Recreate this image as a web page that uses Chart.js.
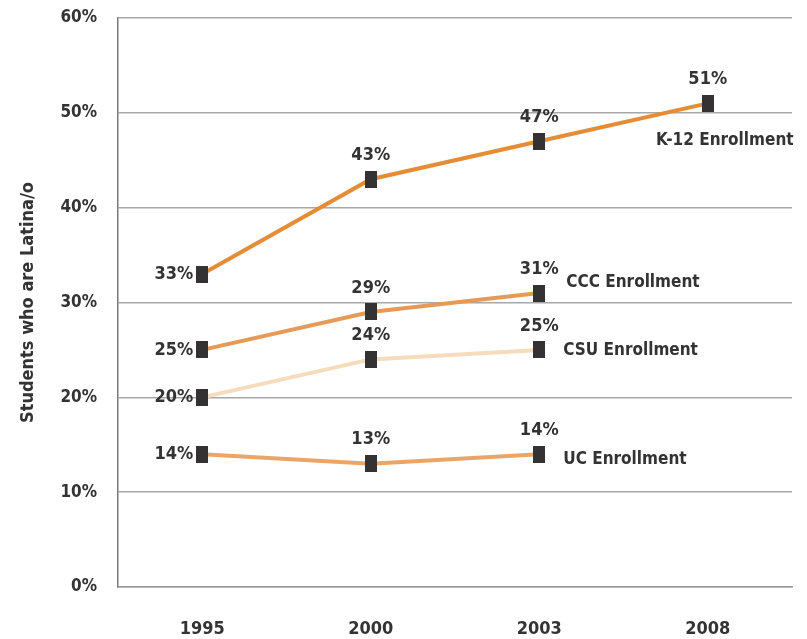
<!DOCTYPE html>
<html>
<head>
<meta charset="utf-8">
<script src="https://cdn.jsdelivr.net/npm/chart.js@4.4.0/dist/chart.umd.min.js"></script>
<style>
  html, body { margin: 0; padding: 0; background: #fff; }
  #wrap { width: 807px; height: 639px; }
</style>
</head>
<body>
<div id="wrap"><canvas id="grafico" width="807" height="639"></canvas></div>
<script>
// datos del grafico
const anios = ['1995', '2000', '2003', '2008'];
const k12 = [33, 43, 47, 51];
const ccc = [25, 29, 31, null];
const csu = [20, 24, 25, null];
const uc = [14, 13, 14, null];
const nombresSeries = ['K-12 Enrollment', 'CCC Enrollment', 'CSU Enrollment', 'UC Enrollment'];
const ticksY = [0, 10, 20, 30, 40, 50, 60];

const FUENTE = '"Liberation Sans Narrow", "DejaVu Sans Condensed", sans-serif';
const TEXTO = '#333333';

// marcador cuadrado oscuro (un poco mas alto que ancho)
function crearMarcador() {
    const c = document.createElement('canvas');
    c.width = 12;
    c.height = 17;
    const ctx = c.getContext('2d');
    ctx.fillStyle = '#353233';
    ctx.fillRect(0, 0, 12, 17);
    return c;
}
const marcador = crearMarcador();

// donde va cada nombre de serie, respecto a su ultimo punto
const posNombres = [
    { dx: 17, dy: 37, align: 'center' },
    { dx: 27, dy: -10, align: 'left' },
    { dx: 24, dy: 1, align: 'left' },
    { dx: 24, dy: 5, align: 'left' }
];

const etiquetasPlugin = {
    id: 'etiquetas',
    afterDatasetsDraw(chart) {
        const ctx = chart.ctx;
        ctx.save();
        chart.data.datasets.forEach((ds, i) => {
            const meta = chart.getDatasetMeta(i);
            let ultimo = null;
            meta.data.forEach((p, j) => {
                const v = ds.data[j];
                if (v === null || v === undefined) return;
                ultimo = p;
                ctx.fillStyle = TEXTO;
                ctx.font = 'bold 18px ' + FUENTE;
                ctx.textBaseline = 'middle';
                if (j === 0) {
                    ctx.textAlign = 'right';
                    ctx.fillText(v + '%', p.x - 9, p.y);
                } else {
                    ctx.textAlign = 'center';
                    ctx.fillText(v + '%', p.x, p.y - 24);
                }
            });
            if (ultimo) {
                const pos = posNombres[i];
                ctx.font = 'bold 17px ' + FUENTE;
                ctx.textAlign = pos.align;
                ctx.textBaseline = 'middle';
                ctx.fillText(nombresSeries[i], ultimo.x + pos.dx, ultimo.y + pos.dy);
            }
        });
        ctx.restore();
    }
};

function serie(nombre, datos, color) {
    return {
        label: nombre,
        data: datos,
        borderColor: color,
        backgroundColor: color,
        borderWidth: 4,
        pointStyle: marcador,
        pointRadius: 8,
        pointHoverRadius: 8,
        tension: 0,
        spanGaps: false
    };
}

new Chart(document.getElementById('grafico'), {
    type: 'line',
    data: {
        labels: anios,
        datasets: [
            serie(nombresSeries[0], k12, '#E58C36'),
            serie(nombresSeries[1], ccc, '#E59A57'),
            serie(nombresSeries[2], csu, '#F6DBBC'),
            serie(nombresSeries[3], uc, '#EBA667')
        ]
    },
    options: {
        responsive: false,
        animation: false,
        layout: { padding: { top: 18, right: 15, left: 0, bottom: 0 } },
        plugins: {
            legend: { display: false },
            tooltip: { enabled: false }
        },
        scales: {
            x: {
                type: 'category',
                offset: true,
                grid: { display: false, drawTicks: false },
                border: { display: true, color: '#9a9a9a', width: 1.5 },
                ticks: {
                    color: TEXTO,
                    padding: 32,
                    font: { family: FUENTE, size: 18, weight: 'bold' }
                },
                afterFit(s) { s.height = 52; s.paddingLeft = 0; s.paddingRight = 0; }
            },
            y: {
                min: 0,
                max: 60,
                afterBuildTicks(s) { s.ticks = ticksY.map(v => ({ value: v })); },
                grid: { color: '#a8a8a8', lineWidth: 1.5, drawTicks: false },
                border: { display: true, color: '#7a7a7a', width: 1.5 },
                ticks: {
                    color: TEXTO,
                    padding: 21,
                    font: { family: FUENTE, size: 17, weight: 'bold' },
                    callback: v => v + '%'
                },
                title: {
                    display: true,
                    text: 'Students who are Latina/o',
                    color: TEXTO,
                    padding: { top: 18, bottom: 0 },
                    font: { family: FUENTE, size: 18, weight: 'bold' }
                },
                afterFit(s) { s.width = 118; s.paddingTop = 0; s.paddingBottom = 0; }
            }
        }
    },
    plugins: [etiquetasPlugin]
});
</script>
</body>
</html>
